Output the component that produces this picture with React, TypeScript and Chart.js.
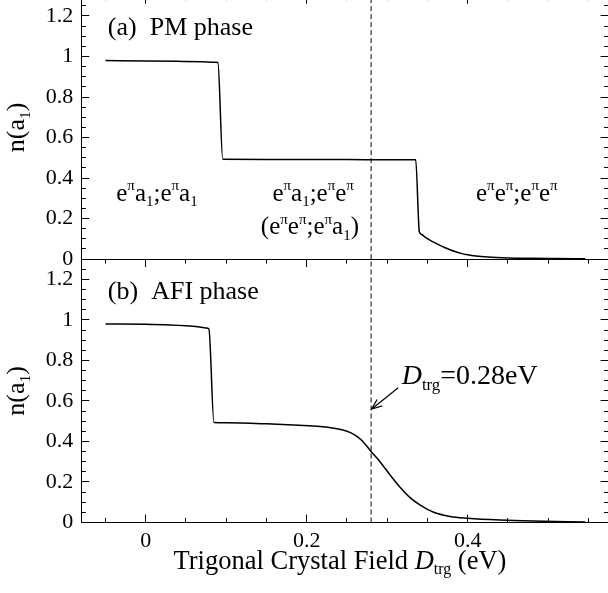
import React, { useEffect, useRef } from "react";
import { Chart, registerables } from "chart.js";

Chart.register(...registerables);

const FONT = "'Liberation Serif', 'Times New Roman', Times, serif";

const X_MIN = -0.08;
const X_MAX = 0.575;
const Y_MIN = 0;
const Y_MAX = 1.3;
const X_MINOR_STEP = 0.05;
const Y_MINOR_STEP = 0.05;

const X_TICKS = [0, 0.2, 0.4];
const X_TICK_LABELS = ["0", "0.2", "0.4"];
const Y_TICKS = [0, 0.2, 0.4, 0.6, 0.8, 1, 1.2];
const Y_TICK_LABELS = ["0", "0.2", "0.4", "0.6", "0.8", "1", "1.2"];

// (a) PM phase
const PM_X = [
  -0.05, 0.0, 0.04, 0.07, 0.085, 0.0897, 0.0957, 0.15, 0.2, 0.25, 0.3, 0.3354,
  0.3399, 0.343, 0.347, 0.352, 0.357, 0.365, 0.372, 0.378, 0.385, 0.393, 0.4,
  0.41, 0.425, 0.45, 0.48, 0.51, 0.546,
];
const PM_Y = [
  0.98, 0.978, 0.976, 0.974, 0.972, 0.97, 0.493, 0.492, 0.491, 0.491, 0.49, 0.49,
  0.135, 0.121, 0.108, 0.096, 0.085, 0.069, 0.056, 0.046, 0.036, 0.027, 0.021,
  0.015, 0.01, 0.006, 0.004, 0.003, 0.002,
];

// (b) AFI phase
const AFI_X = [
  -0.05, 0.0, 0.03, 0.05, 0.065, 0.075, 0.0785, 0.0848, 0.1, 0.15, 0.19, 0.2165,
  0.23, 0.241, 0.25, 0.258, 0.264, 0.27, 0.28, 0.291, 0.3035, 0.316, 0.328, 0.341,
  0.357, 0.378, 0.4, 0.44, 0.481, 0.546,
];
const AFI_Y = [
  0.98, 0.978, 0.975, 0.971, 0.966, 0.96, 0.955, 0.493, 0.492, 0.487, 0.48, 0.474,
  0.468, 0.46, 0.45, 0.436, 0.42, 0.399, 0.35, 0.3, 0.235, 0.174, 0.124, 0.086,
  0.052, 0.03, 0.021, 0.012, 0.007, 0.003,
];

const D_TRG = 0.28;

type Seg = [string, number?]; // 0 normal, 1 sup, 2 sub, 3 italic

const PANEL_A: Seg[] = [["(a)  PM phase"]];
const PANEL_B: Seg[] = [["(b)  AFI phase"]];
const REGION_1: Seg[] = [["e"], ["π", 1], ["a"], ["1", 2], [";e"], ["π", 1], ["a"], ["1", 2]];
const REGION_2A: Seg[] = [["e"], ["π", 1], ["a"], ["1", 2], [";e"], ["π", 1], ["e"], ["π", 1]];
const REGION_2B: Seg[] = [["(e"], ["π", 1], ["e"], ["π", 1], [";e"], ["π", 1], ["a"], ["1", 2], [")"]];
const REGION_3: Seg[] = [["e"], ["π", 1], ["e"], ["π", 1], [";e"], ["π", 1], ["e"], ["π", 1]];
const DTRG_LABEL: Seg[] = [["D", 3], ["trg", 2], ["=0.28eV"]];
const Y_TITLE: Seg[] = [["n(a"], ["1", 2], [")"]];
const X_TITLE: Seg[] = [["Trigonal Crystal Field "], ["D", 3], ["trg", 2], [" (eV)"]];

function segFont(kind: number, size: number) {
  const s = kind === 1 || kind === 2 ? size * 0.6 : size;
  return `${kind === 3 ? "italic " : ""}${s}px ${FONT}`;
}

function drawRich(ctx: CanvasRenderingContext2D, segs: Seg[], x: number, y: number, size: number, align: "left" | "center") {
  let w = 0;
  for (const [t, k = 0] of segs) {
    ctx.font = segFont(k, size);
    w += ctx.measureText(t).width;
  }
  let cx = align === "center" ? x - w / 2 : x;
  ctx.textAlign = "left";
  ctx.textBaseline = "alphabetic";
  for (const [t, k = 0] of segs) {
    ctx.font = segFont(k, size);
    const dy = k === 1 ? -size * 0.42 : k === 2 ? size * 0.22 : 0;
    ctx.fillText(t, cx, y + dy);
    cx += ctx.measureText(t).width;
  }
}

const a = (v: number) => Math.floor(v) + 0.5;

const decorPlugin = {
  id: "decor",
  afterDatasetsDraw(chart: any) {
    const ctx: CanvasRenderingContext2D = chart.ctx;
    const xs = chart.scales.x;
    const yP = chart.scales.yPM;
    const yA = chart.scales.yAFI;
    const L = chart.chartArea.left;
    const R = chart.chartArea.right;
    const line = (x1: number, y1: number, x2: number, y2: number) => {
      ctx.beginPath();
      ctx.moveTo(x1, y1);
      ctx.lineTo(x2, y2);
      ctx.stroke();
    };
    ctx.save();
    ctx.strokeStyle = "#000";
    ctx.lineWidth = 1;
    line(L, a(yP.top), R, a(yP.top));
    line(L, a(yP.bottom), R, a(yP.bottom));
    line(a(R), yP.top, a(R), yA.bottom);
    const ny = Math.round((Y_MAX - Y_MIN) / Y_MINOR_STEP);
    for (const ys of [yP, yA]) {
      for (let i = 0; i <= ny; i++) {
        const py = a(ys.getPixelForValue(Y_MIN + i * Y_MINOR_STEP));
        const len = i % 4 === 0 ? 8 : 4.5;
        line(L, py, L + len, py);
        line(R, py, R - len, py);
      }
    }
    const i0 = Math.ceil(X_MIN / X_MINOR_STEP);
    const i1 = Math.floor(X_MAX / X_MINOR_STEP);
    for (let i = i0; i <= i1; i++) {
      const px = a(xs.getPixelForValue(i * X_MINOR_STEP));
      const len = ((i % 4) + 4) % 4 === 0 ? 8 : 4.5;
      line(px, yP.top, px, yP.top + len);
      line(px, yA.top, px, yA.top + len);
      line(px, yA.bottom, px, yA.bottom - len);
    }
    ctx.restore();
  },
  afterDraw(chart: any) {
    const ctx: CanvasRenderingContext2D = chart.ctx;
    const xs = chart.scales.x;
    const yP = chart.scales.yPM;
    const yA = chart.scales.yAFI;
    const X = (v: number) => xs.getPixelForValue(v);
    ctx.save();
    ctx.fillStyle = "#000";
    drawRich(ctx, PANEL_A, X(-0.047), yP.getPixelForValue(1.105), 26, "left");
    drawRich(ctx, PANEL_B, X(-0.047), yA.getPixelForValue(1.105), 26, "left");
    drawRich(ctx, REGION_1, X(0.014), yP.getPixelForValue(0.287), 25, "center");
    drawRich(ctx, REGION_2A, X(0.208), yP.getPixelForValue(0.287), 25, "center");
    drawRich(ctx, REGION_2B, X(0.204), yP.getPixelForValue(0.122), 25, "center");
    drawRich(ctx, REGION_3, X(0.461), yP.getPixelForValue(0.287), 25, "center");
    drawRich(ctx, DTRG_LABEL, X(0.318), yA.getPixelForValue(0.682), 28, "left");

    // arrow
    const x1 = X(0.3137), y1 = yA.getPixelForValue(0.665);
    const x2 = X(0.2807), y2 = yA.getPixelForValue(0.56);
    ctx.strokeStyle = "#000";
    ctx.lineWidth = 1.2;
    ctx.beginPath();
    ctx.moveTo(x1, y1);
    ctx.lineTo(x2, y2);
    const ang = Math.atan2(y2 - y1, x2 - x1);
    const hl = 11;
    ctx.moveTo(x2 - hl * Math.cos(ang - 0.38), y2 - hl * Math.sin(ang - 0.38));
    ctx.lineTo(x2, y2);
    ctx.lineTo(x2 - hl * Math.cos(ang + 0.38), y2 - hl * Math.sin(ang + 0.38));
    ctx.stroke();

    // axis titles
    const L = chart.chartArea.left;
    for (const ys of [yP, yA]) {
      ctx.save();
      ctx.translate(L - 57, (ys.top + ys.bottom) / 2);
      ctx.rotate(-Math.PI / 2);
      drawRich(ctx, Y_TITLE, 0, 0, 26, "center");
      ctx.restore();
    }
    drawRich(ctx, X_TITLE, X(0.2413), chart.chartArea.bottom + 46, 26.5, "center");
    ctx.restore();
  },
};

function yAxis(weight: number) {
  return {
    type: "linear",
    position: "left",
    stack: "panels",
    stackWeight: 1,
    weight,
    min: Y_MIN,
    max: Y_MAX,
    grid: { display: false, drawTicks: false },
    border: { display: true, color: "#000", width: 1 },
    afterBuildTicks: (s: any) => {
      s.ticks = Y_TICKS.map((v) => ({ value: v }));
    },
    afterFit: (s: any) => {
      s.width = 81.3;
      s.paddingTop = 0;
      s.paddingBottom = 0;
    },
    ticks: {
      autoSkip: false,
      padding: 8,
      color: "#000",
      font: { family: FONT, size: 22 },
      callback: (_v: any, i: number) => Y_TICK_LABELS[i],
    },
  };
}

export default function App() {
  const ref = useRef<HTMLCanvasElement | null>(null);
  useEffect(() => {
    if (!ref.current) return;
    const mk = (xsArr: number[], ysArr: number[]) => xsArr.map((x, i) => ({ x, y: ysArr[i] }));
    const chart = new Chart(ref.current, {
      type: "line",
      data: {
        datasets: [
          {
            data: mk(PM_X, PM_Y),
            yAxisID: "yPM",
            borderColor: "#000",
            borderWidth: 1.5,
            pointRadius: 0,
            cubicInterpolationMode: "monotone",
          },
          {
            data: mk(AFI_X, AFI_Y),
            yAxisID: "yAFI",
            borderColor: "#000",
            borderWidth: 1.5,
            pointRadius: 0,
            cubicInterpolationMode: "monotone",
          },
          {
            data: [{ x: D_TRG, y: Y_MIN }, { x: D_TRG, y: Y_MAX }],
            yAxisID: "yPM",
            borderColor: "#000",
            borderWidth: 1,
            borderDash: [5, 3],
            pointRadius: 0,
          },
          {
            data: [{ x: D_TRG, y: Y_MIN }, { x: D_TRG, y: Y_MAX }],
            yAxisID: "yAFI",
            borderColor: "#000",
            borderWidth: 1,
            borderDash: [5, 3],
            pointRadius: 0,
          },
        ],
      } as any,
      options: {
        responsive: false,
        animation: false,
        devicePixelRatio: 1,
        layout: { padding: { top: 5.7, right: 11.4, bottom: 0, left: 0 } },
        plugins: { legend: { display: false }, tooltip: { enabled: false } },
        scales: {
          x: {
            type: "linear",
            position: "bottom",
            min: X_MIN,
            max: X_MAX,
            grid: { display: false, drawTicks: false },
            border: { display: true, color: "#000", width: 1 },
            afterBuildTicks: (s: any) => {
              s.ticks = X_TICKS.map((v) => ({ value: v }));
            },
            afterFit: (s: any) => {
              s.height = 77.5;
              s.paddingLeft = 0;
              s.paddingRight = 0;
            },
            ticks: {
              autoSkip: false,
              maxRotation: 0,
              padding: 6,
              color: "#000",
              font: { family: FONT, size: 22 },
              callback: (_v: any, i: number) => X_TICK_LABELS[i],
            },
          },
          yPM: yAxis(2),
          yAFI: yAxis(1),
        } as any,
      },
      plugins: [decorPlugin],
    } as any);
    return () => chart.destroy();
  }, []);
  return (
    <div style={{ position: "fixed", left: 0, top: 0, width: 608, height: 593, overflow: "hidden", background: "#fff" }}>
      <canvas ref={ref} width={620} height={610} style={{ position: "absolute", left: 0, top: -10, width: 620, height: 610 }} />
    </div>
  );
}
